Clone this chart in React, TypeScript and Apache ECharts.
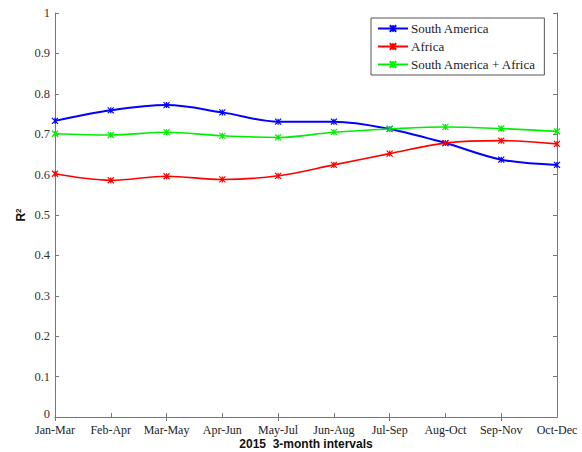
import React, { useEffect, useRef } from "react";
import * as echarts from "echarts";

const categories = ["Jan-Mar", "Feb-Apr", "Mar-May", "Apr-Jun", "May-Jul", "Jun-Aug", "Jul-Sep", "Aug-Oct", "Sep-Nov", "Oct-Dec"];
const southAmerica = [0.733, 0.759, 0.772, 0.754, 0.731, 0.731, 0.713, 0.678, 0.637, 0.624];
const africa = [0.602, 0.586, 0.596, 0.588, 0.597, 0.624, 0.652, 0.678, 0.684, 0.676];
const combined = [0.701, 0.698, 0.705, 0.696, 0.692, 0.705, 0.713, 0.718, 0.714, 0.707];
const yTicks = [0, 0.1, 0.2, 0.3, 0.4, 0.5, 0.6, 0.7, 0.8, 0.9, 1];

const STAR = "path://M0,0L10,10M10,0L0,10M5,0L5,10";
const serif = "'Liberation Serif', 'DejaVu Serif', serif";
const sans = "'Liberation Sans', Arial, sans-serif";

function mkSeries(name: string, data: number[], color: string, width: number) {
  return {
    name,
    type: "line",
    data,
    smooth: 0.35,
    symbol: STAR,
    symbolSize: 6,
    showSymbol: true,
    lineStyle: { color, width },
    itemStyle: { color: "none", borderColor: color, borderWidth: 1.2 },
    emphasis: { disabled: true },
  };
}

export default function App() {
  const ref = useRef<HTMLDivElement>(null);
  useEffect(() => {
    if (!ref.current) return;
    const chart = echarts.init(ref.current, null, { renderer: "svg" });
    const axisLine = { show: true, lineStyle: { color: "#777", width: 1 } };
    const axisTick = { show: true, inside: true, length: 4, lineStyle: { color: "#777" } };
    chart.setOption({
      animation: false,
      backgroundColor: "#fff",
      grid: { left: 55, right: 25, top: 13, bottom: 35, outerBoundsMode: "none", containLabel: false },
      legend: {
        orient: "vertical",
        left: 371,
        top: 18,
        width: 175,
        padding: [4, 8, 4, 6],
        itemGap: 5,
        itemWidth: 30,
        itemHeight: 8,
        borderColor: "#555",
        borderWidth: 1,
        backgroundColor: "#fff",
        textStyle: { fontFamily: serif, fontSize: 13, color: "#222", padding: [0, 0, 0, -2] },
        data: ["South America", "Africa", "South America + Africa"],
      },
      xAxis: [
        {
          type: "category",
          data: categories,
          boundaryGap: false,
          position: "bottom",
          axisLine,
          axisTick: { ...axisTick, alignWithLabel: true },
          splitLine: { show: false },
          axisLabel: { fontFamily: serif, fontSize: 12, lineHeight: 12, color: "#222", margin: 7, interval: 0 },
          name: "2015  3-month intervals",
          nameLocation: "middle",
          nameGap: 20,
          nameMoveOverlap: false,
          nameTextStyle: { fontFamily: sans, fontSize: 12, lineHeight: 13, fontWeight: "bold", color: "#111" },
        },
        {
          type: "category",
          data: categories,
          boundaryGap: false,
          position: "top",
          axisLine,
          axisTick,
          axisLabel: { show: false },
          splitLine: { show: false },
        },
      ],
      yAxis: [
        {
          type: "value",
          min: 0,
          max: 1,
          interval: 0.1,
          position: "left",
          axisLine,
          axisTick,
          splitLine: { show: false },
          axisLabel: {
            fontFamily: serif,
            fontSize: 12.5,
            lineHeight: 11,
            color: "#333",
            margin: 5,
            formatter: (v: number) => {
              const t = yTicks.find((x) => Math.abs(x - v) < 1e-6);
              const s = String(t !== undefined ? t : Math.round(v * 10) / 10);
              return t === 0 ? "{z|" + s + "}" : s;
            },
            rich: {
              z: { fontFamily: serif, fontSize: 12.5, lineHeight: 11, color: "#333", padding: [0, 0, 6, 0] },
            },
          },
          name: "{b|R}{s|2}",
          nameLocation: "middle",
          nameRotate: 90,
          nameGap: 27,
          nameMoveOverlap: false,
          nameTextStyle: {
            rich: {
              b: { fontFamily: sans, fontSize: 12, fontWeight: "bold", color: "#111" },
              s: { fontFamily: sans, fontSize: 8, fontWeight: "bold", color: "#111", verticalAlign: "top", padding: [0, 0, 6, 0] },
            },
          },
        },
        {
          type: "value",
          min: 0,
          max: 1,
          interval: 0.1,
          position: "right",
          axisLine,
          axisTick,
          splitLine: { show: false },
          axisLabel: { show: false },
        },
      ],
      series: [
        mkSeries("South America", southAmerica, "#0000ff", 2),
        mkSeries("Africa", africa, "#ff0000", 1.6),
        mkSeries("South America + Africa", combined, "#00ee00", 1.6),
      ],
    });
    return () => chart.dispose();
  }, []);
  return <div ref={ref} style={{ position: "fixed", left: 0, top: 0, width: 582, height: 452 }} />;
}
